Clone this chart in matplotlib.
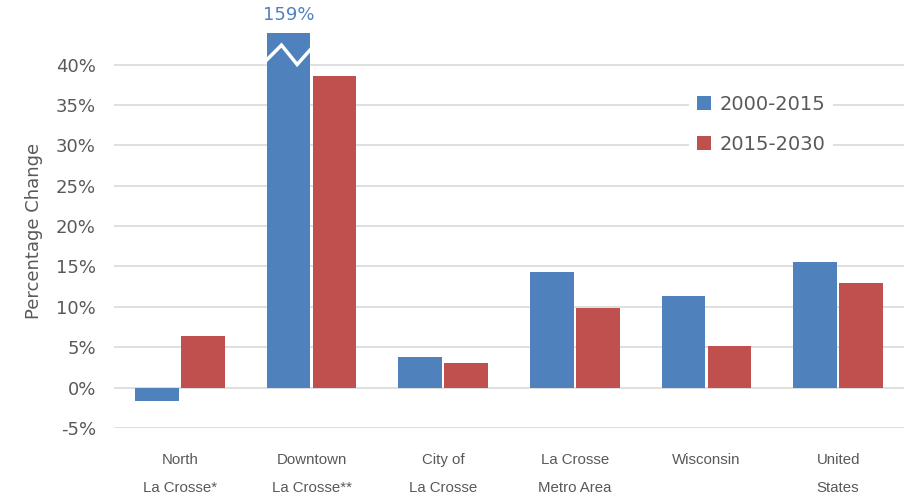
import matplotlib
matplotlib.use("Agg")
import matplotlib.pyplot as plt
from matplotlib import font_manager
import numpy as np

categories = ["North\nLa Crosse*", "Downtown\nLa Crosse**", "City of\nLa Crosse",
              "La Crosse\nMetro Area", "Wisconsin", "United\nStates"]
series_names = ["2000-2015", "2015-2030"]
values_2000_2015 = [-1.6, 159.0, 3.8, 14.3, 11.4, 15.6]
values_2015_2030 = [6.4, 38.6, 3.0, 9.8, 5.2, 13.0]
yticks = [-5, 0, 5, 10, 15, 20, 25, 30, 35, 40]
ytick_labels = ["-5%", "0%", "5%", "10%", "15%", "20%", "25%", "30%", "35%", "40%"]
break_label = "159%"

BLUE = "#4F81BD"
RED = "#C0504D"
TXT = "#595959"
GRID = "#D9D9D9"

try:
    font_manager.findfont("Liberation Sans Narrow", fallback_to_default=False)
    xfam, xsize = "Liberation Sans Narrow", 12.5
except Exception:
    xfam, xsize = "Liberation Sans", 10.8

W, H = 906, 499
fig = plt.figure(figsize=(W / 100, H / 100), dpi=100)
left, right, top, bottom = 114, 904, 33, 428
ax = fig.add_axes([left / W, 1 - bottom / H, (right - left) / W, (bottom - top) / H])

x = np.arange(len(categories))
bw = 0.33
off = 0.175
b1 = ax.bar(x - off, values_2000_2015, bw, color=BLUE, label=series_names[0], zorder=2)
b2 = ax.bar(x + off, values_2015_2030, bw, color=RED, label=series_names[1], zorder=2)

ax.set_xlim(-0.5, len(categories) - 0.5)
ax.set_ylim(-5, 43.9)
ax.set_yticks(yticks)
ax.set_yticklabels(ytick_labels, fontsize=13, color=TXT, family="DejaVu Sans")
ax.set_xticks(x)
ax.set_xticklabels(categories, fontsize=xsize, color=TXT, family=xfam, linespacing=2.3)
ax.tick_params(axis="both", length=0)
ax.tick_params(axis="y", pad=13)
ax.tick_params(axis="x", pad=18)
ax.yaxis.grid(True, color=GRID, linewidth=1.2, zorder=0)
ax.set_axisbelow(True)
for s in ax.spines.values():
    s.set_visible(False)

ax.set_ylabel("Percentage Change", fontsize=13, color=TXT, family="DejaVu Sans")
ax.yaxis.set_label_coords(-0.090, 0.5)

# broken-bar marker on the clipped bar
p = b1.patches[1]
px, pw = p.get_x(), p.get_width()
zx = [px - 0.05 * pw, px + 0.34 * pw, px + 0.70 * pw, px + 1.03 * pw]
zy = [40.3, 42.4, 40.0, 42.0]
ax.plot(zx, zy, color="white", linewidth=2.5, zorder=3, solid_joinstyle="miter")
ax.text(px + pw / 2, 46.1, break_label, ha="center", va="center", fontsize=13,
        color=BLUE, family="DejaVu Sans", clip_on=False)

leg = ax.legend(loc="upper left", bbox_to_anchor=(689 / W, 1 - 87 / H),
                bbox_transform=fig.transFigure, frameon=True, facecolor="white",
                edgecolor="none", framealpha=1, fancybox=False,
                prop={"family": "DejaVu Sans", "size": 14}, borderpad=0.4,
                borderaxespad=0, handlelength=0.72, handleheight=0.72,
                handletextpad=0.45, labelspacing=1.1)
for t in leg.get_texts():
    t.set_color(TXT)

fig.savefig("out.png", dpi=100)
